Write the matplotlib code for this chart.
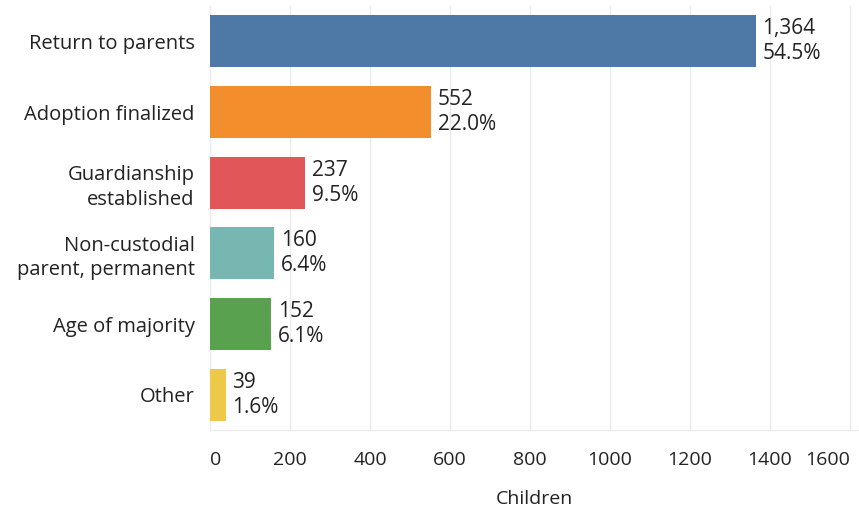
import numpy as np
import matplotlib.pyplot as plt

plt.rcParams['font.family'] = ['Open Sans', 'DejaVu Sans']

# outcome categories and counts
categories = ['Return to parents', 'Adoption finalized', 'Guardianship\nestablished',
              'Non-custodial\nparent, permanent', 'Age of majority', 'Other']
children = [1364, 552, 237, 160, 152, 39]
pct_labels = ['54.5%', '22.0%', '9.5%', '6.4%', '6.1%', '1.6%']
colors = ['#4e79a7', '#f28e2b', '#e15759', '#76b7b2', '#59a14f', '#edc948']
xticks = [0, 200, 400, 600, 800, 1000, 1200, 1400, 1600]

fig = plt.figure(figsize=(8.59, 5.13), dpi=100)
ax = fig.add_axes([210/859, 83/513, 648/859, 424/513])

y = np.arange(len(categories))
ax.barh(y, children, height=0.74, color=colors, zorder=2)

for yi, v, p in zip(y, children, pct_labels):
    ax.text(v + 17, yi, f'{v:,}\n{p}', va='center', ha='left',
            fontsize=15, color='#222222', linespacing=1.27)

ax.set_ylim(len(categories) - 0.5, -0.5)
ax.set_xlim(0, 1620)
ax.set_yticks(y)
ax.set_yticklabels(categories, fontsize=14.5, color='#222222', linespacing=1.3)
ax.set_xticks(xticks)
ax.set_xticklabels([str(t) for t in xticks], fontsize=14, color='#222222')
ax.get_xticklabels()[0].set_ha('left')
ax.get_xticklabels()[-1].set_ha('right')
ax.set_xlabel('Children', fontsize=14, color='#222222', labelpad=15)

ax.grid(axis='x', color='#ebebeb', linewidth=1, zorder=0)
for s in ['top', 'right', 'left']:
    ax.spines[s].set_visible(False)
ax.spines['bottom'].set_color('#ebebeb')
ax.tick_params(axis='x', length=0, pad=15)
ax.tick_params(axis='y', length=0, pad=11)

fig.savefig('out.png', dpi=100)
